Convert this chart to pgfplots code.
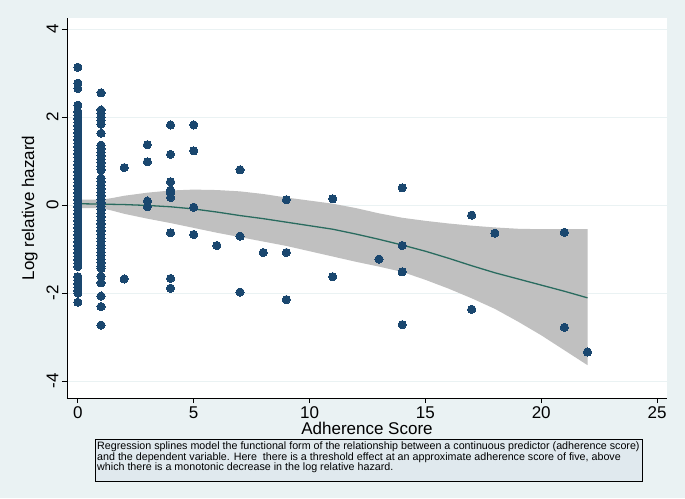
\documentclass[border=0pt]{standalone}
\usepackage{pgfplots}
\pgfplotsset{compat=1.18}
\usepackage{fontspec}
\setmainfont{Liberation Sans}
\definecolor{bgcol}{RGB}{234,242,243}
\definecolor{gridcol}{RGB}{234,242,243}
\definecolor{navy}{RGB}{26,71,111}
\definecolor{lineg}{RGB}{41,107,95}
\definecolor{bandcol}{RGB}{192,192,192}
\definecolor{capcol}{RGB}{224,233,238}
\begin{document}
\begin{tikzpicture}[x=1pt,y=1pt]
\fill[bgcol] (-67,-100) rectangle (618,398);
\begin{axis}[at={(0,0)}, anchor=south west, scale only axis,
  width=600pt, height=380pt,
  xmin=-0.47, xmax=25.43, ymin=-4.386, ymax=4.25,
  axis x line*=bottom, axis y line*=left,
  axis line style={black, line width=0.8pt},
  axis background/.style={fill=white},
  xtick={0,5,10,15,20,25}, ytick={-4,-2,0,2,4},
  tick align=outside, major tick length=5pt,
  tick style={black, line width=0.8pt},
  ymajorgrids, grid style={gridcol, line width=0.9pt},
  /pgf/number format/assume math mode=true,
  tick label style={font=\fontsize{17}{17}\selectfont},
  yticklabel style={rotate=90, anchor=south},
  xlabel={Adherence Score}, ylabel={Log relative hazard},
  every axis x label/.style={at={(axis description cs:0.5,-0.079)}, anchor=center, font=\fontsize{17}{17}\selectfont},
  every axis y label/.style={at={(axis description cs:-0.062,0.5)}, rotate=90, anchor=center, font=\fontsize{17}{17}\selectfont},
]
% confidence band: upper forward, lower backward
\addplot[fill=bandcol, draw=none] coordinates {
(0,0.12) (0.5,0.12) (1,0.12) (1.5,0.16) (2,0.21) (3,0.28) (4,0.33) (5,0.35) (6,0.34) (7,0.31) (8,0.25) (9,0.17) (10,0.10) (11,0.03) (12,-0.07) (13,-0.19) (14,-0.29) (15,-0.36) (16,-0.42) (17,-0.47) (18,-0.51) (19,-0.54) (20,-0.55) (21,-0.55) (22,-0.55)
(22,-3.64) (21,-3.30) (20,-2.96) (19,-2.65) (18,-2.36) (17,-2.12) (16,-1.90) (15,-1.70) (14,-1.52) (13,-1.40) (12,-1.29) (11,-1.17) (10,-1.05) (9,-0.93) (8,-0.83) (7,-0.73) (6,-0.63) (5,-0.52) (4,-0.41) (3,-0.31) (2,-0.20) (1.5,-0.13) (1,-0.07) (0.5,-0.07) (0,-0.07)
};
% scatter
\addplot[only marks, mark=*, mark size=4.1pt, mark options={fill=navy, draw=navy, line width=0pt}] coordinates {
(0,3.13) (0,2.77) (0,2.65) (0,2.27) (0,2.12) (0,2.04) (0,1.96) (0,1.88) (0,1.80) (0,1.72) (0,1.64) (0,1.56) (0,1.48) (0,1.40) (0,1.32) (0,1.24) (0,1.16) (0,1.08) (0,1.00) (0,0.92) (0,0.84) (0,0.76) (0,0.68) (0,0.60) (0,0.52) (0,0.44) (0,0.36) (0,0.28) (0,0.20) (0,0.12) (0,0.04) (0,-0.04) (0,-0.12) (0,-0.20) (0,-0.28) (0,-0.36) (0,-0.44) (0,-0.52) (0,-0.60) (0,-0.68) (0,-0.76) (0,-0.84) (0,-0.92) (0,-1.00) (0,-1.08) (0,-1.16) (0,-1.24) (0,-1.32) (0,-1.40) (0,-1.63) (0,-1.71) (0,-1.79) (0,-1.87) (0,-1.95) (0,-2.00) (0,-2.21)
(1,2.55) (1,2.16) (1,2.08) (1,2.00) (1,1.92) (1,1.84) (1,1.63) (1,1.36) (1,1.28) (1,1.20) (1,1.12) (1,1.04) (1,0.96) (1,0.88) (1,0.80) (1,0.61) (1,0.53) (1,0.45) (1,0.37) (1,0.29) (1,0.21) (1,0.13) (1,0.05) (1,-0.03) (1,-0.11) (1,-0.19) (1,-0.27) (1,-0.35) (1,-0.43) (1,-0.51) (1,-0.59) (1,-0.67) (1,-0.75) (1,-0.83) (1,-0.91) (1,-0.99) (1,-1.07) (1,-1.15) (1,-1.23) (1,-1.31) (1,-1.39) (1,-1.44) (1,-1.62) (1,-1.77) (1,-2.07) (1,-2.31) (1,-2.73)
(2,0.85) (2,-1.68)
(3,1.37) (3,0.98) (3,0.09) (3,-0.04)
(4,1.82) (4,1.15) (4,0.53) (4,0.34) (4,0.27) (4,0.17) (4,-0.63) (4,-1.67) (4,-1.89)
(5,1.82) (5,1.23) (5,-0.05) (5,-0.67)
(6,-0.92)
(7,0.80) (7,-0.71) (7,-1.98)
(8,-1.08)
(9,0.12) (9,-1.08) (9,-2.15)
(11,0.14) (11,-1.63)
(13,-1.23)
(14,0.39) (14,-0.92) (14,-1.52) (14,-2.72)
(17,-0.23) (17,-2.37)
(18,-0.64)
(21,-0.62) (21,-2.78)
(22,-3.34)
};
% fitted spline
\addplot[lineg, line width=1.3pt] coordinates {
(0,0.03) (1,0.02) (2,0.01) (3,-0.01) (4,-0.04) (5,-0.09) (6,-0.16) (7,-0.24) (8,-0.31) (9,-0.39) (10,-0.47) (11,-0.55) (12,-0.66) (13,-0.78) (14,-0.91) (15,-1.05) (16,-1.21) (17,-1.38) (18,-1.54) (19,-1.68) (20,-1.82) (21,-1.96) (22,-2.11)
};
\end{axis}
\draw[black, line width=0.8pt, fill=capcol] (28,-41) rectangle (575,-83);
\node[anchor=north west, align=left, inner sep=0pt, font=\fontsize{10.7}{10.6}\selectfont] at (30,-43.5) {Regression splines model the functional form of the relationship between a continuous predictor (adherence score)\\and the dependent variable. Here\ \ there is a threshold effect at an approximate adherence score of five, above\\which there is a monotonic decrease in the log relative hazard.};
\end{tikzpicture}
\end{document}
